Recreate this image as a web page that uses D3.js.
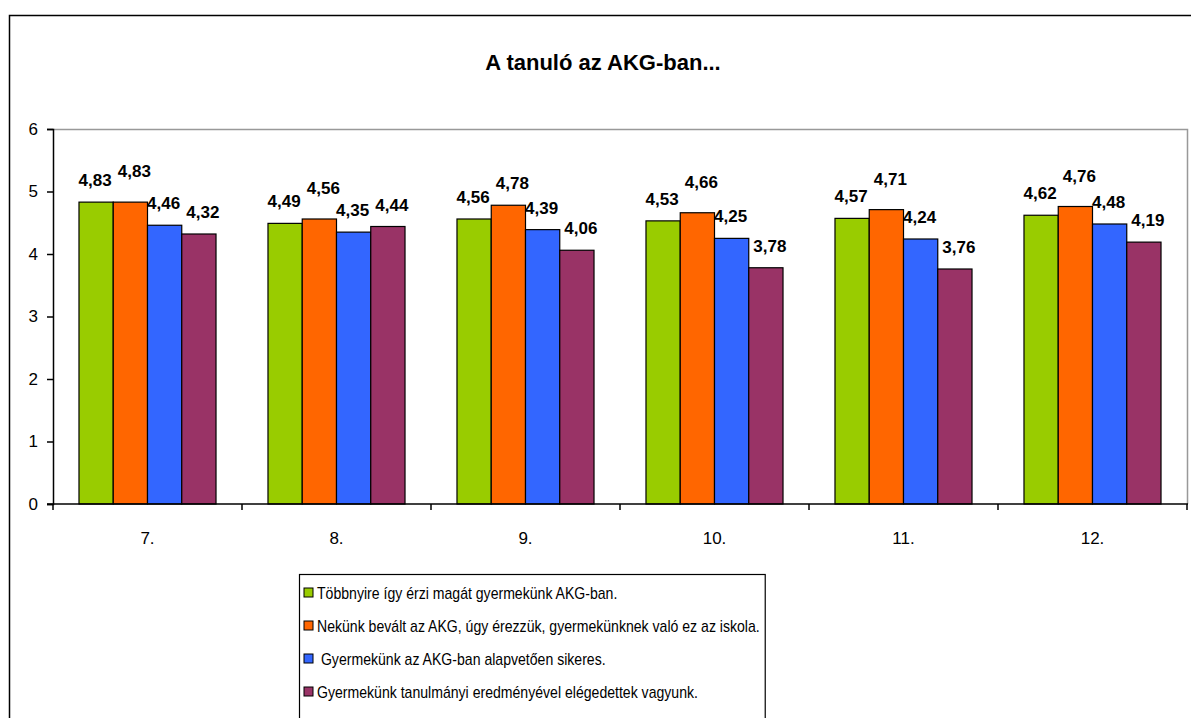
<!DOCTYPE html>
<html>
<head>
<meta charset="utf-8">
<script src="https://cdn.jsdelivr.net/npm/d3@7"></script>
<style>
  html, body { margin: 0; padding: 0; background: #fff; }
  svg { display: block; font-family: "Liberation Sans", Arial, sans-serif; }
</style>
</head>
<body>
<svg id="chart" width="1191" height="718"></svg>
<script>
// ---- data ----
const title = "A tanuló az AKG-ban...";
const categories = ["7.", "8.", "9.", "10.", "11.", "12."];
const seriesNames = [
  "Többnyire így érzi magát gyermekünk AKG-ban.",
  "Nekünk bevált az AKG, úgy érezzük, gyermekünknek való ez az iskola.",
  " Gyermekünk az AKG-ban alapvetően sikeres.",
  "Gyermekünk tanulmányi eredményével elégedettek vagyunk."
];
const valuesGreen  = [4.83, 4.49, 4.56, 4.53, 4.57, 4.62];
const valuesOrange = [4.83, 4.56, 4.78, 4.66, 4.71, 4.76];
const valuesBlue   = [4.46, 4.35, 4.39, 4.25, 4.24, 4.48];
const valuesPurple = [4.32, 4.44, 4.06, 3.78, 3.76, 4.19];
const yTicks = [0, 1, 2, 3, 4, 5, 6];
const colors = ["#99CC00", "#FF6600", "#3366FF", "#993366"];

const seriesValues = [valuesGreen, valuesOrange, valuesBlue, valuesPurple];

// ---- layout ----
const svg = d3.select("#chart");
const plot = { left: 53, right: 1187, top: 129, bottom: 504 };

// outer chart border
svg.append("rect")
  .attr("x", 9.5).attr("y", 15.5)
  .attr("width", 1300).attr("height", 900)
  .attr("fill", "#fff").attr("stroke", "#000").attr("stroke-width", 1.5);

// title
svg.append("text")
  .attr("x", 603).attr("y", 70)
  .attr("text-anchor", "middle")
  .attr("font-size", 22).attr("font-weight", "bold")
  .text(title);

// scales
const x0 = d3.scaleBand().domain(categories)
  .range([plot.left, plot.right])
  .paddingInner(0.275).paddingOuter(0.1375);
const x1 = d3.scaleBand().domain(d3.range(seriesNames.length))
  .range([0, x0.bandwidth()]);
const y = d3.scaleLinear().domain([0, 6]).range([plot.bottom, plot.top]);

// plot area border (gray top & right)
svg.append("path")
  .attr("d", `M${plot.left},${plot.top + 0.5}H${plot.right + 0.5}V${plot.bottom}`)
  .attr("fill", "none").attr("stroke", "#999").attr("stroke-width", 1.5);

// bars
const groups = svg.append("g").selectAll("g")
  .data(categories)
  .join("g")
  .attr("transform", d => `translate(${x0(d)},0)`);

groups.selectAll("rect")
  .data((c, i) => seriesValues.map((vals, s) => ({ s, v: vals[i] })))
  .join("rect")
  .attr("x", d => x1(d.s))
  .attr("y", d => y(d.v))
  .attr("width", x1.bandwidth())
  .attr("height", d => y(0) - y(d.v))
  .attr("fill", d => colors[d.s])
  .attr("stroke", "#000").attr("stroke-width", 1.2);

// data labels
const labelOffset = 16;
groups.selectAll("text.lbl")
  .data((c, i) => seriesValues.map((vals, s) => ({ s, v: vals[i], prev: s > 0 ? seriesValues[s - 1][i] : null })))
  .join("text")
  .attr("class", "lbl")
  .attr("x", d => x1(d.s) + x1.bandwidth() / 2 + (d.s % 2 ? 4 : -1))
  .attr("y", d => {
    let yy = y(d.v) - labelOffset;
    // keep the second label clear of the first one when their bars are close
    if (d.s === 1 && Math.abs(y(d.v) - y(d.prev)) < 12) yy -= 9;
    return yy;
  })
  .attr("text-anchor", "middle")
  .attr("font-size", 17).attr("font-weight", "bold")
  .text(d => d3.format(".2f")(d.v).replace(".", ","));

// y axis
const yAxis = svg.append("g")
  .attr("transform", `translate(${plot.left},0)`)
  .call(d3.axisLeft(y).tickValues(yTicks).tickSize(6).tickPadding(9).tickFormat(d3.format("d")));
yAxis.selectAll("text").attr("font-size", 17).attr("fill", "#000")
  .attr("font-family", "\"Liberation Sans\", Arial, sans-serif");
yAxis.select(".domain").attr("stroke", "#000").attr("stroke-width", 1.5);
yAxis.selectAll(".tick line").attr("stroke", "#000").attr("stroke-width", 1.5);

// x axis
const xAxisG = svg.append("g");
xAxisG.append("line")
  .attr("x1", plot.left - 6).attr("x2", plot.right + 1)
  .attr("y1", plot.bottom).attr("y2", plot.bottom)
  .attr("stroke", "#000").attr("stroke-width", 1.5);
const bounds = categories.map(c => x0(c) - x0.step() * x0.paddingInner() / 2).concat([plot.right]);
xAxisG.selectAll("line.xt")
  .data(bounds)
  .join("line")
  .attr("class", "xt")
  .attr("x1", d => d).attr("x2", d => d)
  .attr("y1", plot.bottom).attr("y2", plot.bottom + 6)
  .attr("stroke", "#000").attr("stroke-width", 1.5);
xAxisG.selectAll("text")
  .data(categories)
  .join("text")
  .attr("x", d => x0(d) + x0.bandwidth() / 2)
  .attr("y", plot.bottom + 40)
  .attr("text-anchor", "middle")
  .attr("font-size", 17)
  .text(d => d);

// legend
const legend = svg.append("g");
const legX = 299, legY = 574, legRowH = 33, squeeze = 0.88;
const legRect = legend.append("rect")
  .attr("x", legX + 0.5).attr("y", legY + 0.5)
  .attr("height", 200)
  .attr("fill", "#fff").attr("stroke", "#000").attr("stroke-width", 1.2);
const items = legend.selectAll("g.item")
  .data(seriesNames)
  .join("g")
  .attr("class", "item")
  .attr("transform", (d, i) => `translate(${legX}, ${legY + 19 + i * legRowH})`);
items.append("rect")
  .attr("x", 5).attr("y", -5)
  .attr("width", 9).attr("height", 9)
  .attr("fill", (d, i) => colors[i])
  .attr("stroke", "#000").attr("stroke-width", 1);
items.append("text")
  .attr("transform", `translate(18,6) scale(${squeeze},1)`)
  .attr("font-size", 16)
  .attr("xml:space", "preserve")
  .style("white-space", "pre")
  .text(d => d);
let maxW = 0;
items.selectAll("text").each(function () { maxW = Math.max(maxW, this.getComputedTextLength()); });
legRect.attr("width", 18 + maxW * squeeze + 5);
</script>
</body>
</html>
